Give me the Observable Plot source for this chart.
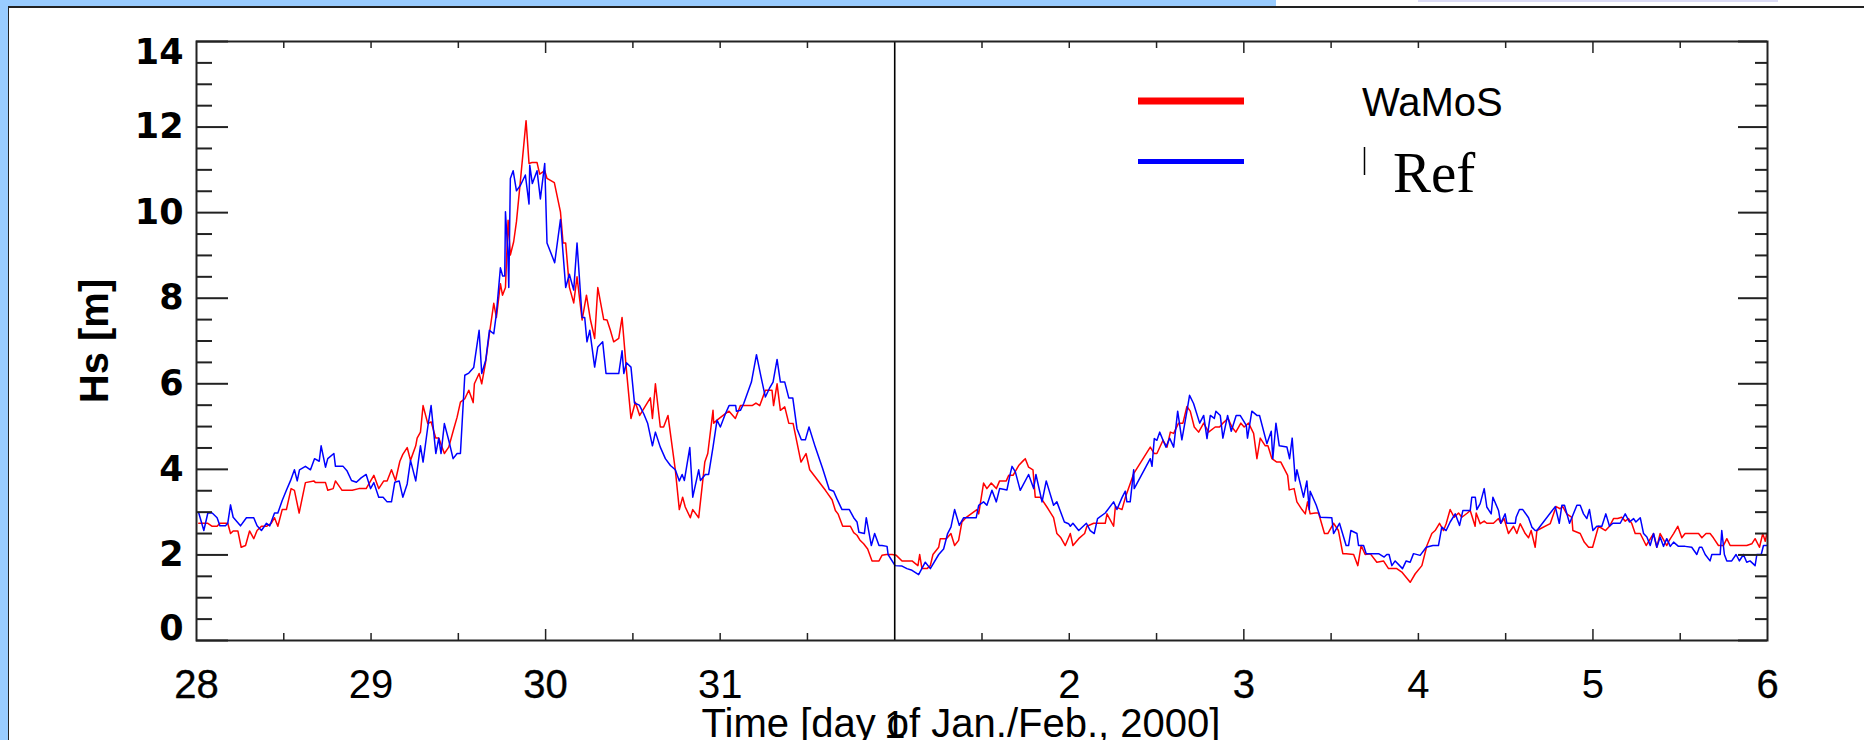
<!DOCTYPE html>
<html>
<head>
<meta charset="utf-8">
<script src="https://cdn.jsdelivr.net/npm/d3@7"></script>
<script src="https://cdn.jsdelivr.net/npm/@observablehq/plot@0.6"></script>
<style>
  html, body { margin: 0; padding: 0; background: #fff; overflow: hidden; }
  #page { position: relative; width: 1864px; height: 740px; overflow: hidden; }
  #chart { position: absolute; left: 0; top: 0; }
  #legend { position: absolute; left: 0; top: 0; pointer-events: none; }
  .deco { position: absolute; }
</style>
</head>
<body>
<div id="page">
  <div id="chart"></div>
  <svg id="legend" width="1864" height="740"></svg>
  <!-- slide frame -->
  <div class="deco" style="left:0;top:0;width:8px;height:740px;background:#99ccff"></div>
  <div class="deco" style="left:0;top:0;width:1276px;height:6px;background:#99ccff"></div>
  <div class="deco" style="left:1418px;top:0;width:360px;height:2px;background:#dcdcf6"></div>
  <div class="deco" style="left:8px;top:6px;width:1856px;height:2px;background:#222"></div>
  <div class="deco" style="left:8px;top:6px;width:1px;height:734px;background:#222"></div>
</div>
<script>
// Significant wave height, 28 Jan – 6 Feb 2000.
// Time is in days after 28 Jan 00:00, Hs in metres.
const wamos = [
  [0.013,2.74],[0.065,2.74],[0.090,2.67],[0.118,2.67],[0.134,2.74],[0.179,2.74],[0.195,2.50],[0.210,2.56],
  [0.237,2.56],[0.256,2.18],[0.281,2.22],[0.304,2.56],[0.328,2.38],[0.347,2.57],[0.372,2.67],[0.401,2.67],
  [0.428,2.74],[0.447,2.87],[0.466,2.67],[0.491,3.06],[0.515,3.06],[0.542,3.55],[0.561,3.51],[0.588,2.98],
  [0.624,3.69],[0.672,3.73],[0.682,3.69],[0.739,3.69],[0.752,3.51],[0.783,3.55],[0.796,3.73],[0.834,3.51],
  [0.892,3.51],[0.930,3.55],[0.972,3.55],[1.016,3.86],[1.044,3.55],[1.073,3.73],[1.092,3.73],[1.117,3.99],
  [1.140,3.74],[1.165,4.19],[1.182,4.35],[1.207,4.51],[1.226,4.21],[1.256,4.55],[1.264,4.73],[1.283,4.87],
  [1.298,5.49],[1.325,5.07],[1.344,5.11],[1.371,4.73],[1.388,4.73],[1.420,4.37],[1.445,4.52],[1.474,4.95],
  [1.493,5.22],[1.512,5.57],[1.537,5.65],[1.560,5.85],[1.585,5.56],[1.592,6.00],[1.619,6.24],[1.634,6.00],
  [1.655,6.47],[1.678,7.17],[1.703,7.88],[1.718,7.55],[1.741,8.34],[1.753,8.07],[1.770,8.25],[1.785,9.82],
  [1.798,9.01],[1.817,9.32],[1.833,9.79],[1.856,10.76],[1.888,12.15],[1.905,11.15],[1.922,11.17],[1.951,11.17],
  [1.966,10.90],[1.995,10.98],[2.008,10.80],[2.050,10.70],[2.085,10.02],[2.100,9.29],[2.115,9.29],[2.136,8.26],
  [2.161,7.89],[2.180,8.50],[2.209,7.49],[2.234,8.07],[2.257,7.49],[2.281,7.06],[2.299,8.25],[2.333,7.50],
  [2.352,7.49],[2.371,7.25],[2.390,6.98],[2.419,7.06],[2.438,7.55],[2.463,6.32],[2.489,5.19],[2.514,5.57],
  [2.539,5.26],[2.600,5.67],[2.612,5.19],[2.629,6.00],[2.657,4.99],[2.676,4.99],[2.701,5.26],[2.743,3.99],
  [2.766,3.06],[2.785,3.35],[2.800,3.12],[2.829,2.87],[2.843,3.06],[2.877,2.87],[2.912,4.17],[2.929,4.37],
  [2.959,5.38],[2.963,5.08],[2.982,5.15],[3.026,5.29],[3.051,5.36],[3.087,5.19],[3.116,5.49],[3.183,5.49],
  [3.205,5.55],[3.227,5.49],[3.259,5.85],[3.297,5.85],[3.306,5.49],[3.326,6.00],[3.345,5.38],[3.370,5.46],
  [3.393,5.08],[3.418,5.07],[3.463,4.17],[3.492,4.37],[3.513,3.99],[3.603,3.51],[3.641,3.29],[3.660,3.04],
  [3.675,2.96],[3.702,2.67],[3.746,2.67],[3.765,2.52],[3.784,2.46],[3.800,2.35],[3.822,2.26],[3.845,2.14],
  [3.870,1.86],[3.910,1.86],[3.927,1.99],[3.952,2.01],[3.985,2.01],[4.009,1.99],[4.042,1.86],[4.099,1.86],
  [4.133,1.75],[4.143,2.01],[4.156,1.68],[4.185,1.68],[4.204,1.75],[4.219,2.01],[4.252,2.18],[4.261,2.38],
  [4.296,2.38],[4.322,2.50],[4.343,2.22],[4.366,2.34],[4.385,2.77],[4.410,2.88],[4.471,3.06],[4.481,2.96],
  [4.509,3.68],[4.528,3.55],[4.553,3.68],[4.582,3.55],[4.601,3.73],[4.639,3.73],[4.653,3.86],[4.678,3.86],
  [4.710,4.09],[4.738,4.21],[4.748,4.25],[4.767,4.05],[4.792,3.99],[4.805,3.35],[4.834,3.35],[4.872,3.12],
  [4.910,2.87],[4.929,2.50],[4.952,2.40],[4.977,2.22],[5.006,2.50],[5.021,2.22],[5.054,2.38],[5.088,2.50],
  [5.101,2.67],[5.140,2.74],[5.174,2.74],[5.206,2.74],[5.216,2.96],[5.254,2.67],[5.264,3.13],[5.302,3.06],
  [5.321,3.34],[5.369,3.90],[5.464,4.52],[5.487,4.37],[5.502,4.37],[5.537,4.68],[5.560,4.52],[5.579,4.87],
  [5.598,4.84],[5.626,5.08],[5.651,5.08],[5.674,5.47],[5.693,5.36],[5.716,4.99],[5.741,4.87],[5.770,5.08],
  [5.798,4.87],[5.836,4.99],[5.861,4.99],[5.880,5.08],[5.909,5.19],[5.932,4.99],[5.954,4.87],[5.983,5.08],
  [6.002,4.99],[6.027,5.08],[6.056,4.84],[6.075,4.25],[6.094,4.73],[6.123,4.55],[6.138,4.55],[6.161,4.25],
  [6.189,4.17],[6.212,4.17],[6.251,3.86],[6.260,3.52],[6.288,3.55],[6.304,3.24],[6.333,3.06],[6.352,2.96],
  [6.365,3.24],[6.380,2.96],[6.409,2.98],[6.428,2.98],[6.462,2.50],[6.481,2.50],[6.514,2.74],[6.542,2.57],
  [6.567,2.03],[6.586,2.03],[6.629,2.01],[6.653,1.75],[6.672,2.22],[6.695,2.01],[6.724,2.03],[6.762,1.83],
  [6.800,1.86],[6.829,1.68],[6.876,1.68],[6.905,1.60],[6.953,1.36],[6.982,1.56],[7.020,1.75],[7.049,2.22],
  [7.077,2.50],[7.096,2.57],[7.121,2.74],[7.144,2.57],[7.159,2.73],[7.182,3.06],[7.205,2.88],[7.230,2.98],
  [7.249,2.88],[7.281,2.98],[7.297,3.04],[7.325,2.67],[7.331,2.98],[7.354,2.73],[7.377,2.79],[7.392,2.74],
  [7.430,2.74],[7.459,2.85],[7.472,2.74],[7.491,2.85],[7.516,2.50],[7.545,2.67],[7.564,2.50],[7.583,2.73],
  [7.612,2.50],[7.631,2.40],[7.646,2.57],[7.669,2.18],[7.679,2.57],[7.755,2.73],[7.789,3.13],[7.812,3.08],
  [7.827,3.13],[7.850,2.96],[7.879,2.88],[7.885,2.57],[7.927,2.50],[7.950,2.30],[7.975,2.18],[7.998,2.18],
  [8.032,2.67],[8.072,2.57],[8.095,2.67],[8.118,2.85],[8.141,2.85],[8.165,2.88],[8.185,2.79],[8.204,2.85],
  [8.223,2.73],[8.242,2.50],[8.271,2.50],[8.305,2.22],[8.347,2.50],[8.366,2.18],[8.385,2.50],[8.423,2.22],
  [8.439,2.35],[8.462,2.50],[8.486,2.67],[8.509,2.40],[8.528,2.50],[8.557,2.50],[8.605,2.50],[8.624,2.40],
  [8.648,2.50],[8.671,2.50],[8.690,2.40],[8.719,2.22],[8.748,2.22],[8.767,2.38],[8.786,2.22],[8.834,2.22],
  [8.881,2.22],[8.910,2.26],[8.929,2.38],[8.954,2.18],[8.973,2.50],[8.987,2.32],[8.996,2.50]
];

const ref = [
  [0.013,2.98],[0.042,2.57],[0.065,2.98],[0.090,2.98],[0.118,2.87],[0.134,2.68],[0.166,2.68],[0.179,2.74],
  [0.195,3.17],[0.210,2.88],[0.252,2.68],[0.286,2.87],[0.328,2.87],[0.347,2.68],[0.372,2.57],[0.401,2.74],
  [0.420,2.68],[0.447,2.98],[0.466,2.98],[0.491,3.27],[0.515,3.51],[0.538,3.73],[0.561,3.99],[0.577,3.73],
  [0.590,3.99],[0.624,4.07],[0.653,3.99],[0.676,4.25],[0.703,4.19],[0.714,4.55],[0.739,4.05],[0.752,4.25],
  [0.787,4.37],[0.796,4.07],[0.840,4.07],[0.863,3.96],[0.888,3.74],[0.916,3.70],[0.943,3.80],[0.972,3.88],
  [0.997,3.55],[1.016,3.69],[1.044,3.35],[1.069,3.35],[1.092,3.24],[1.117,3.24],[1.136,3.70],[1.161,3.73],
  [1.182,3.35],[1.207,3.66],[1.226,4.21],[1.256,3.73],[1.283,4.55],[1.298,4.17],[1.325,4.99],[1.344,5.49],
  [1.371,4.37],[1.388,4.73],[1.401,4.37],[1.420,5.07],[1.445,4.68],[1.470,4.25],[1.493,4.37],[1.512,4.37],
  [1.537,6.20],[1.560,6.25],[1.588,6.38],[1.619,7.25],[1.634,6.24],[1.657,6.55],[1.678,7.25],[1.703,7.17],
  [1.718,7.64],[1.741,8.71],[1.754,8.52],[1.766,8.52],[1.770,10.02],[1.783,9.12],[1.789,8.25],[1.798,10.80],
  [1.814,10.98],[1.833,10.51],[1.856,10.64],[1.884,10.88],[1.905,10.20],[1.909,11.11],[1.924,10.68],[1.951,10.98],
  [1.970,10.32],[1.995,11.15],[2.008,9.29],[2.052,8.83],[2.085,9.84],[2.115,8.25],[2.136,8.56],[2.161,8.19],
  [2.180,9.29],[2.209,7.55],[2.224,7.55],[2.237,6.98],[2.253,7.25],[2.281,6.39],[2.299,6.86],[2.327,6.98],
  [2.346,6.24],[2.419,6.24],[2.438,6.77],[2.448,6.24],[2.463,6.49],[2.489,6.39],[2.509,5.55],[2.537,5.50],
  [2.562,5.30],[2.585,5.07],[2.612,4.55],[2.629,4.87],[2.657,4.52],[2.686,4.25],[2.715,4.09],[2.743,3.99],
  [2.766,3.73],[2.782,3.88],[2.795,3.74],[2.826,4.51],[2.843,3.35],[2.877,3.99],[2.887,3.74],[2.915,3.88],
  [2.934,3.88],[2.959,4.52],[2.982,5.15],[3.001,4.99],[3.030,5.30],[3.051,5.49],[3.089,5.49],[3.093,5.36],
  [3.116,5.38],[3.135,5.54],[3.179,6.04],[3.208,6.68],[3.234,6.16],[3.259,5.69],[3.282,5.89],[3.303,6.04],
  [3.326,6.57],[3.345,6.04],[3.370,6.04],[3.393,5.67],[3.416,5.67],[3.440,4.95],[3.465,4.69],[3.488,4.69],
  [3.509,4.99],[3.545,4.52],[3.587,4.02],[3.625,3.53],[3.650,3.49],[3.669,3.31],[3.698,3.06],[3.740,3.06],
  [3.765,2.87],[3.784,2.77],[3.795,2.53],[3.826,2.50],[3.837,2.87],[3.866,2.22],[3.885,2.50],[3.910,2.22],
  [3.927,2.22],[3.956,2.20],[3.962,2.01],[4.002,1.75],[4.042,1.74],[4.070,1.68],[4.099,1.64],[4.137,1.54],
  [4.175,1.83],[4.204,1.68],[4.252,2.01],[4.280,2.14],[4.303,2.50],[4.322,2.65],[4.343,3.06],[4.370,2.69],
  [4.395,2.87],[4.467,2.87],[4.481,3.16],[4.509,3.24],[4.528,3.16],[4.557,3.51],[4.582,3.24],[4.601,3.55],
  [4.643,3.52],[4.662,3.90],[4.672,4.07],[4.691,3.94],[4.719,3.51],[4.767,3.88],[4.796,3.55],[4.809,3.88],
  [4.844,3.24],[4.868,3.73],[4.910,3.16],[4.929,3.24],[4.972,2.77],[4.996,2.73],[5.006,2.67],[5.021,2.74],
  [5.054,2.57],[5.098,2.74],[5.120,2.57],[5.143,2.50],[5.162,2.85],[5.206,2.98],[5.254,3.24],[5.273,3.06],
  [5.302,3.34],[5.321,3.49],[5.330,3.24],[5.349,3.24],[5.369,3.99],[5.372,3.55],[5.464,4.25],[5.474,4.07],
  [5.487,4.72],[5.502,4.68],[5.518,4.87],[5.540,4.65],[5.554,4.52],[5.575,4.73],[5.598,4.52],[5.621,5.36],
  [5.645,4.69],[5.674,5.36],[5.689,5.73],[5.712,5.54],[5.747,5.08],[5.770,5.26],[5.789,4.72],[5.808,5.26],
  [5.831,5.19],[5.840,5.36],[5.865,5.26],[5.880,4.73],[5.907,5.26],[5.928,4.89],[5.956,5.26],[5.979,5.26],
  [6.014,5.03],[6.021,4.73],[6.046,5.36],[6.075,5.26],[6.090,5.26],[6.132,4.60],[6.157,4.89],[6.166,4.25],
  [6.184,5.08],[6.203,4.55],[6.247,4.52],[6.262,4.25],[6.277,4.73],[6.295,3.73],[6.304,3.99],[6.342,3.35],
  [6.361,3.73],[6.375,3.06],[6.380,3.49],[6.415,3.16],[6.438,2.88],[6.504,2.87],[6.514,2.50],[6.548,2.74],
  [6.586,2.22],[6.600,2.22],[6.613,2.57],[6.648,2.50],[6.657,2.22],[6.686,2.22],[6.701,2.03],[6.772,2.03],
  [6.804,1.95],[6.819,2.01],[6.832,2.01],[6.848,1.75],[6.867,1.86],[6.909,1.68],[6.930,1.86],[6.953,1.83],
  [6.972,2.03],[7.010,1.99],[7.045,2.18],[7.083,2.22],[7.115,2.22],[7.134,2.65],[7.159,2.57],[7.182,2.77],
  [7.211,2.96],[7.236,2.69],[7.255,3.04],[7.278,3.04],[7.297,3.04],[7.306,3.35],[7.326,3.35],[7.335,3.06],
  [7.354,3.20],[7.377,3.55],[7.392,3.12],[7.417,2.96],[7.427,3.35],[7.459,3.04],[7.472,2.74],[7.497,2.96],
  [7.507,2.74],[7.555,2.74],[7.560,2.88],[7.579,3.06],[7.598,3.06],[7.631,2.87],[7.650,2.65],[7.669,2.57],
  [7.679,2.57],[7.784,3.13],[7.807,2.74],[7.822,3.16],[7.837,3.16],[7.866,2.74],[7.908,3.16],[7.927,3.16],
  [7.946,2.96],[7.965,2.85],[7.980,3.06],[8.000,2.57],[8.022,2.67],[8.051,2.67],[8.074,2.96],[8.095,2.67],
  [8.114,2.74],[8.156,2.74],[8.185,2.96],[8.209,2.77],[8.233,2.85],[8.246,2.77],[8.271,2.87],[8.290,2.50],
  [8.309,2.42],[8.328,2.22],[8.347,2.50],[8.366,2.18],[8.385,2.42],[8.404,2.20],[8.423,2.38],[8.443,2.20],
  [8.462,2.30],[8.490,2.20],[8.528,2.20],[8.566,2.18],[8.595,2.01],[8.610,2.18],[8.624,2.18],[8.643,2.01],
  [8.671,1.86],[8.681,2.01],[8.710,2.01],[8.729,2.01],[8.738,2.57],[8.753,2.01],[8.767,1.86],[8.795,1.86],
  [8.820,2.01],[8.839,1.86],[8.862,2.01],[8.881,1.83],[8.900,1.86],[8.929,1.75],[8.939,2.01],[8.964,2.01],
  [8.977,2.22],[8.996,2.22]
];

// Axis ticks and labels
const yMajor = [0, 2, 4, 6, 8, 10, 12, 14];
const yMinor = d3.range(0.5, 14, 0.5).filter(v => v % 2 !== 0);
const xMajor = [2, 6, 8];
const xMinor = d3.range(0.5, 9, 0.5).filter(v => v % 2 !== 0);
const xTickDays = [0, 1, 2, 3, 5, 6, 7, 8, 9];
const xTickText = ["28", "29", "30", "31", "2", "3", "4", "5", "6"];
const heavyLabels = ["28", "30", "3", "6"];
const febFirst = [{day: 4, text: "1"}];
const xTitle = "Time [day of Jan./Feb., 2000]";
const yTitle = "Hs [m]";
const seriesNames = ["WaMoS", "Ref"];
const seriesColors = ["#ff0000", "#0000ff"];

const W = 1864, H = 740;
const M = {left: 196, right: 97, top: 41, bottom: 100};
const plotW = W - M.left - M.right;
const plotH = H - M.top - M.bottom;
const sans = "'Liberation Sans', Arial, Helvetica, sans-serif";
const ink = "#222";

const xTicks = xTickDays.map((day, i) => ({day, text: xTickText[i]}));
const tickLabelStyle = {x: "day", text: "text", frameAnchor: "bottom", lineAnchor: "bottom", dy: 57,
  fontSize: 40, fontFamily: sans, fill: "#000"};
const yLabelStyle = {y: d => d, text: d => String(d), frameAnchor: "left", dx: -13, textAnchor: "end",
  fontSize: 35, fontWeight: "bold", fontFamily: "'DejaVu Sans', sans-serif", fill: "#000"};

const chart = Plot.plot({
  width: W, height: H,
  marginLeft: M.left, marginRight: M.right, marginTop: M.top, marginBottom: M.bottom,
  x: {domain: [0, 9], axis: null},
  y: {domain: [0, 14], axis: null},
  style: {background: "transparent", overflow: "visible"},
  marks: [
    Plot.line(wamos, {x: d => d[0], y: d => d[1], stroke: seriesColors[0], strokeWidth: 1.5}),
    Plot.line(ref, {x: d => d[0], y: d => d[1], stroke: seriesColors[1], strokeWidth: 1.5}),
    Plot.ruleX([4], {stroke: "#000", strokeWidth: 1.6}),

    // inward ticks on all four sides
    Plot.tickY(yMajor, {y: d => d, insetRight: plotW - 32, stroke: ink, strokeWidth: 2}),
    Plot.tickY(yMinor, {y: d => d, insetRight: plotW - 16, stroke: ink, strokeWidth: 2}),
    Plot.tickY(yMajor, {y: d => d, insetLeft: plotW - 29, stroke: ink, strokeWidth: 2}),
    Plot.tickY(yMinor, {y: d => d, insetLeft: plotW - 12, stroke: ink, strokeWidth: 2}),
    Plot.tickX(xMajor, {x: d => d, insetTop: plotH - 11, stroke: ink, strokeWidth: 1.5}),
    Plot.tickX(xMinor, {x: d => d, insetTop: plotH - 7, stroke: ink, strokeWidth: 1.5}),
    Plot.tickX(xMajor, {x: d => d, insetBottom: plotH - 12, stroke: ink, strokeWidth: 1.5}),
    Plot.tickX(xMinor, {x: d => d, insetBottom: plotH - 7, stroke: ink, strokeWidth: 1.5}),
    Plot.frame({stroke: ink, strokeWidth: 2}),

    // y tick labels (end labels sit inside the frame)
    Plot.text(yMajor.filter(v => v > 0 && v < 14), yLabelStyle),
    Plot.text(yMajor.filter(v => v === 0), {...yLabelStyle, dy: -12}),
    Plot.text(yMajor.filter(v => v === 14), {...yLabelStyle, dy: 11}),

    // x tick labels
    Plot.text(xTicks.filter(t => !heavyLabels.includes(t.text)), tickLabelStyle),
    Plot.text(xTicks.filter(t => heavyLabels.includes(t.text)), {...tickLabelStyle, stroke: "#000", strokeWidth: 0.35}),
    Plot.text(febFirst, {...tickLabelStyle, dy: 97, fontSize: 38}),

    // axis titles
    Plot.text([xTitle], {text: d => d, frameAnchor: "bottom", lineAnchor: "bottom", dx: -21, dy: 96,
      fontSize: 40, fontFamily: sans, fill: "#000"}),
    Plot.text([yTitle], {text: d => d, frameAnchor: "left", textAnchor: "middle", lineAnchor: "bottom",
      dx: -89, rotate: -90, fontSize: 40, fontWeight: "bold", fontFamily: sans, fill: "#000"})
  ]
});
document.getElementById("chart").appendChild(chart);

// Legend drawn over the upper right of the plot area
const legend = d3.select("#legend");
const keyRows = [
  {name: seriesNames[0], color: seriesColors[0], y: 101, width: 7, font: sans, size: 40, base: 116, tx: 1362},
  {name: seriesNames[1], color: seriesColors[1], y: 161.5, width: 5, font: "'Liberation Serif', 'Times New Roman', serif", size: 57, base: 192, tx: 1393}
];
keyRows.forEach(r => {
  legend.append("line").attr("x1", 1138).attr("x2", 1244).attr("y1", r.y).attr("y2", r.y)
    .attr("stroke", r.color).attr("stroke-width", r.width);
  legend.append("text").attr("x", r.tx).attr("y", r.base).attr("font-family", r.font)
    .attr("font-size", r.size).attr("fill", "#000").text(r.name);
});
legend.append("line").attr("x1", 1364.5).attr("x2", 1364.5).attr("y1", 147).attr("y2", 175)
  .attr("stroke", "#000").attr("stroke-width", 1.5);
</script>
</body>
</html>
